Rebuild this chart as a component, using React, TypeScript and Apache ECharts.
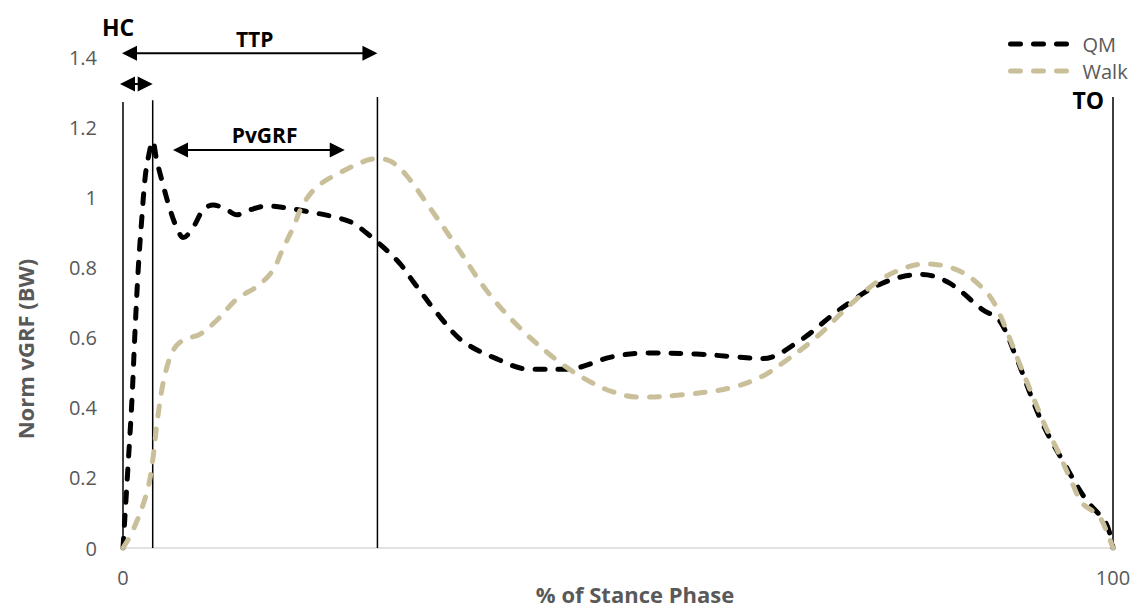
import React, { useEffect, useRef } from "react";
import * as echarts from "echarts";

// ---- data ----
const qmX = [0, 0.5, 0.9, 1.2, 1.55, 1.9, 2.25, 2.6, 3.0, 3.4, 4.0, 4.7, 5.4, 6.1, 7.1, 8.1, 9.1, 10.5, 11.5, 12.8, 14.5, 16.5, 18.5, 21.2, 23.2, 24.6, 26.2, 28, 29.3, 32, 34.3, 37.7, 41, 44.8, 49.4, 52.9, 57.9, 61.5, 64.6, 68.3, 72.4, 76.7, 80.7, 83.5, 86.8, 88.5, 90.2, 92.8, 95.3, 97.3, 99.3, 100];
const qmY = [0, 0.23, 0.42, 0.61, 0.8, 0.94, 1.06, 1.12, 1.16, 1.106, 1.04, 0.97, 0.915, 0.885, 0.915, 0.964, 0.978, 0.964, 0.95, 0.964, 0.975, 0.97, 0.96, 0.945, 0.927, 0.898, 0.86, 0.81, 0.76, 0.66, 0.59, 0.54, 0.51, 0.51, 0.545, 0.556, 0.553, 0.546, 0.54, 0.59, 0.68, 0.755, 0.78, 0.755, 0.68, 0.65, 0.545, 0.36, 0.23, 0.137, 0.07, 0];

const walkX = [0, 1.0, 2.4, 3.0, 3.5, 4.2, 5.1, 6.1, 7.8, 9.5, 11.5, 13.5, 15.1, 16.1, 17.2, 18.2, 19.6, 21.9, 24.6, 25.9, 27.2, 28.7, 31, 33.7, 36.7, 40, 43.8, 46.8, 49.5, 52.2, 56.2, 61.3, 64.6, 66.6, 70, 73.7, 77.1, 81.1, 84.5, 87.2, 88.5, 90.5, 93.2, 94.2, 95.8, 96.9, 98.6, 99.6, 100];
const walkY = [0, 0.05, 0.157, 0.25, 0.37, 0.49, 0.565, 0.593, 0.61, 0.65, 0.71, 0.745, 0.79, 0.85, 0.915, 0.98, 1.03, 1.07, 1.105, 1.11, 1.1, 1.06, 0.97, 0.86, 0.735, 0.63, 0.536, 0.48, 0.445, 0.43, 0.436, 0.456, 0.49, 0.527, 0.6, 0.7, 0.775, 0.81, 0.79, 0.73, 0.67, 0.53, 0.345, 0.29, 0.19, 0.128, 0.09, 0.03, 0];

const seriesNames = ["QM", "Walk"];
const seriesColors = ["#000000", "#c9c09b"];
const xTicks = [0, 100];
const yTicks = [0, 0.2, 0.4, 0.6, 0.8, 1, 1.2, 1.4];

// annotation markers (data coordinates)
const vLineX = [0, 3.0, 25.7, 100];
const vLineTop = [1.272, 1.277, 1.286, 1.286];
const arrowFrom = [-0.3, -0.1, 5.05];
const arrowTo = [3.0, 25.7, 22.4];
const arrowY = [1.323, 1.411, 1.135];
const labelText = ["HC", "TTP", "PvGRF", "TO"];
const labelX = [-0.5, 13.3, 14.3, 97.5];
const labelY = [1.486, 1.451, 1.178, 1.277];
const labelSize = [23, 21, 21, 23];

const FONT = "'Open Sans', 'Noto Sans', sans-serif";
const GRAY = "#595959";
const DASH = [10, 13];

export default function App() {
  const ref = useRef<HTMLDivElement>(null);
  useEffect(() => {
    if (!ref.current) return;
    const chart = echarts.init(ref.current, undefined, { renderer: "svg" });
    const qmData = qmX.map((x, i) => [x, qmY[i]]);
    const walkData = walkX.map((x, i) => [x, walkY[i]]);
    const L = 15;
    const W = 7.5;
    chart.setOption({
      animation: false,
      textStyle: { fontFamily: FONT },
      grid: { left: 123, right: 24, top: 57, bottom: 60, containLabel: false },
      legend: {
        data: seriesNames,
        orient: "vertical",
        left: 1003,
        top: 29,
        itemWidth: 65,
        itemHeight: 14,
        itemGap: 7,
        itemStyle: { opacity: 0 },
        lineStyle: { width: 5, type: DASH, cap: "round" },
        textStyle: { color: GRAY, fontSize: 20, fontFamily: FONT, padding: [0, 0, 0, 2] },
      },
      xAxis: {
        type: "value",
        min: xTicks[0],
        max: xTicks[xTicks.length - 1],
        interval: 100,
        axisLine: { show: true, lineStyle: { color: "#d9d9d9", width: 1.5 } },
        axisTick: { show: false },
        splitLine: { show: false },
        axisLabel: { color: GRAY, fontSize: 20, margin: 19, fontFamily: FONT },
      },
      yAxis: {
        type: "value",
        min: yTicks[0],
        max: yTicks[yTicks.length - 1],
        interval: 0.2,
        axisLine: { show: false },
        axisTick: { show: false },
        splitLine: { show: false },
        axisLabel: {
          color: GRAY,
          fontSize: 20,
          margin: 26,
          fontFamily: FONT,
          formatter: (v: number) => String(Math.round(v * 10) / 10),
        },
      },
      graphic: [
        {
          type: "text",
          x: 25,
          y: 349,
          rotation: Math.PI / 2,
          style: {
            text: "Norm vGRF (BW)",
            fill: GRAY,
            font: `bold 22px ${FONT}`,
            align: "center",
            verticalAlign: "middle",
          },
        },
        {
          type: "text",
          x: 635,
          y: 594,
          style: {
            text: "% of Stance Phase",
            fill: GRAY,
            font: `bold 22px ${FONT}`,
            align: "center",
            verticalAlign: "middle",
          },
        },
      ],
      series: [
        {
          type: "custom",
          name: "annotations",
          coordinateSystem: "cartesian2d",
          silent: true,
          clip: false,
          z: 1,
          data: [[0, 0]],
          renderItem: (_params: any, api: any) => {
            const children: any[] = [];
            vLineX.forEach((x, i) => {
              const p0 = api.coord([x, 0]);
              const p1 = api.coord([x, vLineTop[i]]);
              children.push({
                type: "line",
                shape: { x1: p0[0], y1: p0[1], x2: p1[0], y2: p1[1] },
                style: { stroke: "#000", lineWidth: 1.5 },
              });
            });
            arrowFrom.forEach((f, i) => {
              const p0 = api.coord([f, arrowY[i]]);
              const p1 = api.coord([arrowTo[i], arrowY[i]]);
              children.push({
                type: "line",
                shape: { x1: p0[0] + L - 1, y1: p0[1], x2: p1[0] - L + 1, y2: p1[1] },
                style: { stroke: "#000", lineWidth: 2 },
              });
              children.push({
                type: "polygon",
                shape: { points: [[p0[0], p0[1]], [p0[0] + L, p0[1] - W], [p0[0] + L, p0[1] + W]] },
                style: { fill: "#000" },
              });
              children.push({
                type: "polygon",
                shape: { points: [[p1[0], p1[1]], [p1[0] - L, p1[1] - W], [p1[0] - L, p1[1] + W]] },
                style: { fill: "#000" },
              });
            });
            labelText.forEach((t, i) => {
              const p = api.coord([labelX[i], labelY[i]]);
              children.push({
                type: "text",
                x: p[0],
                y: p[1],
                style: {
                  text: t,
                  fill: "#000",
                  font: `bold ${labelSize[i]}px ${FONT}`,
                  align: "center",
                  verticalAlign: "middle",
                },
              });
            });
            return { type: "group", children };
          },
        },
        {
          type: "line",
          name: seriesNames[0],
          data: qmData,
          smooth: 0.35,
          symbol: "none",
          showSymbol: false,
          z: 3,
          lineStyle: { color: seriesColors[0], width: 5, type: DASH, cap: "round" },
          itemStyle: { color: seriesColors[0] },
        },
        {
          type: "line",
          name: seriesNames[1],
          data: walkData,
          smooth: 0.35,
          symbol: "none",
          showSymbol: false,
          z: 4,
          lineStyle: { color: seriesColors[1], width: 5, type: DASH, cap: "round" },
          itemStyle: { color: seriesColors[1] },
        },
      ],
    });
    return () => chart.dispose();
  }, []);
  return (
    <div
      ref={ref}
      style={{ position: "fixed", left: 0, top: 0, width: 1137, height: 608, background: "#fff" }}
    />
  );
}
